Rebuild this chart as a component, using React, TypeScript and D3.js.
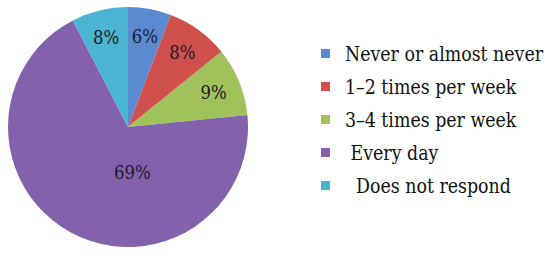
import React from 'react';
import { arc, pie } from 'd3';

const width = 550;
const height = 260;
const centerX = 128;
const centerY = 127;
const radius = 120;
const serif = "'DejaVu Serif', 'Liberation Serif', serif";
// DejaVu Serif is wider than the Times-like face of the original
const squeeze = 0.87;

// shares, labels as printed
const categories = ['Never or almost never', '1\u20132 times per week', '3\u20134 times per week', ' Every day', '  Does not respond'];
const values = [5.8, 8.4, 9.2, 69.0, 7.6];
const labels = ['6%', '8%', '9%', '69%', '8%'];
const colors = ['#5a8bd0', '#d0504e', '#9fc25a', '#8461ad', '#4ab5d2'];

const pieGenerator = pie<number>().sort(null).value(d => d);
const slices = pieGenerator(values);

const arcGenerator = arc<any>().innerRadius(0).outerRadius(radius);
const labelArc = arc<any>().innerRadius(radius * 0.77).outerRadius(radius * 0.77);
const bigLabelArc = arc<any>().innerRadius(radius * 0.38).outerRadius(radius * 0.38);

const legendX = 321;
const legendY = 54;
const legendStep = 33;
const swatch = 9;

const App = () => (
  <svg width={width} height={height} style={{ position: 'absolute', left: 0, top: 0, background: '#fff' }}>
    <g transform={`translate(${centerX}, ${centerY})`}>
      {slices.map((s, i) => (
        <path key={i} d={arcGenerator(s) as string} fill={colors[i]} />
      ))}
      {slices.map((s, i) => {
        const big = s.endAngle - s.startAngle > Math.PI;
        const [x, y] = big
          ? bigLabelArc.centroid({ startAngle: Math.PI * 0.97, endAngle: Math.PI * 0.97 })
          : labelArc.centroid(s);
        return (
          <text
            key={i}
            transform={`translate(${x}, ${y}) scale(${squeeze}, 1)`}
            textAnchor="middle"
            dominantBaseline="central"
            fontFamily={serif}
            fontSize={19}
            fill="#1a1a2a"
          >
            {labels[i]}
          </text>
        );
      })}
    </g>
    <g>
      {categories.map((c, i) => (
        <g key={i} transform={`translate(${legendX}, ${legendY + i * legendStep})`}>
          <rect x={0} y={-swatch / 2 - 0.5} width={swatch} height={swatch} fill={colors[i]} />
          <text
            transform={`translate(24, 0) scale(${squeeze}, 1)`}
            dominantBaseline="central"
            fontFamily={serif}
            fontSize={20}
            fill="#111"
            style={{ whiteSpace: 'pre' }}
          >
            {c}
          </text>
        </g>
      ))}
    </g>
  </svg>
);

export default App;
